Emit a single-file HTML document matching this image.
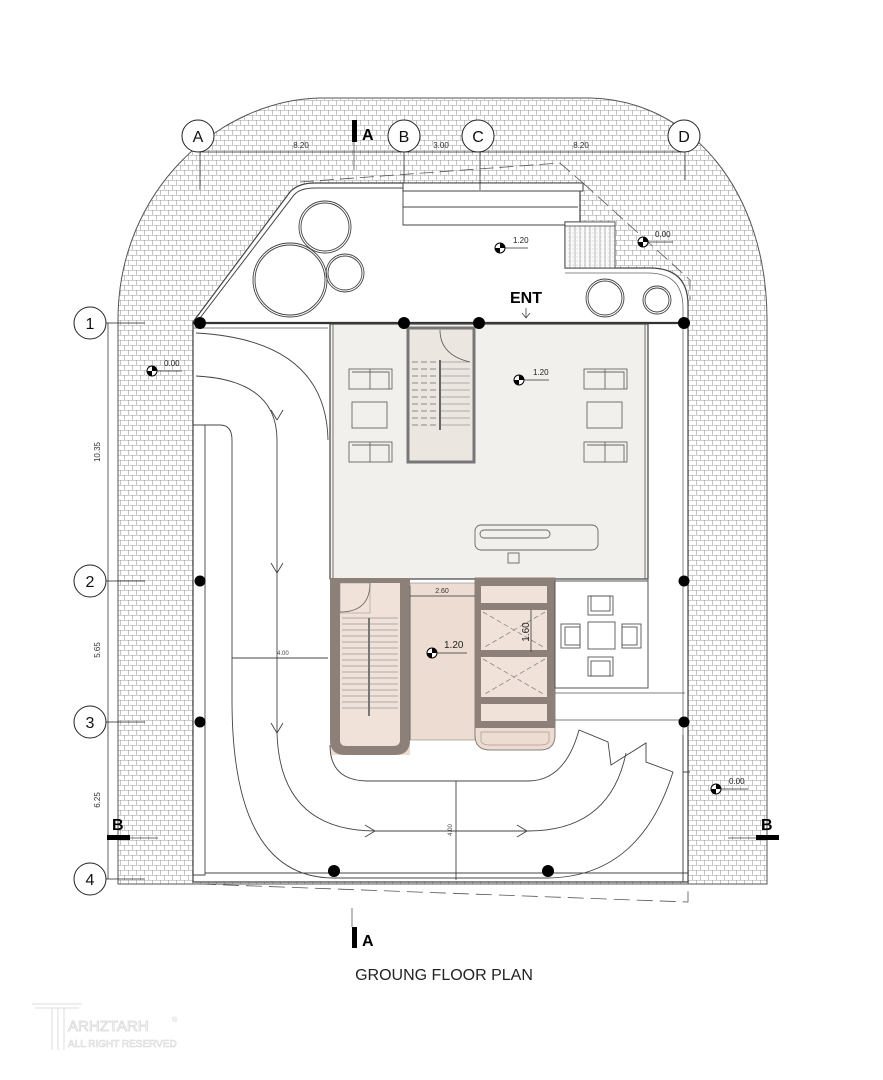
<!DOCTYPE html>
<html><head><meta charset="utf-8"><style>
html,body{margin:0;padding:0;background:#fff;}
svg{display:block;font-family:"Liberation Sans",sans-serif;}
</style></head><body>
<svg width="883" height="1080" viewBox="0 0 883 1080" xmlns="http://www.w3.org/2000/svg">
<defs>
<pattern id="brick" width="8" height="10" patternUnits="userSpaceOnUse">
<rect width="8" height="10" fill="#fff"/>
<path d="M0 0.5H8M0 5.5H8M0.5 0V5M4.5 5V10" stroke="#a0a0a0" stroke-width="0.6" fill="none"/>
</pattern>
<pattern id="dots" width="4" height="4" patternUnits="userSpaceOnUse">
<rect width="4" height="4" fill="#fafafa"/><circle cx="1" cy="1" r="0.4" fill="#999"/>
</pattern>
</defs>

<!-- paving -->
<path d="M118,884 L118,320 C118,190 220,100 320,98 L590,98 C690,100 767,190 767,320 L767,884 Z" fill="url(#brick)" stroke="#555" stroke-width="1"/>
<!-- site white -->
<path d="M193,322 L290,192 Q298,183 315,183 L580,183 L580,222 L565,222 L565,268 L650,268 Q688,268 688,305 L688,882 L193,882 Z" fill="#fff" stroke="#444" stroke-width="1.2"/>
<path d="M200,318 L294,195 Q300,188 315,188 L580,188" fill="none" stroke="#444" stroke-width="1"/>
<path d="M565,273 L648,273 Q683,273 683,308 L683,880" fill="none" stroke="#666" stroke-width="0.8"/>
<path d="M300,182 L560,163 L583,183 M583,183 L690,280 L690,300" fill="none" stroke="#555" stroke-width="0.8" stroke-dasharray="14,6"/>
<!-- top steps -->
<rect x="403" y="183" width="180" height="8" fill="#fff" stroke="#444"/>
<path d="M403,191 V225 H578 M403,207 H578" fill="none" stroke="#444" stroke-width="0.9"/>
<rect x="565" y="222" width="50" height="46" fill="url(#dots)" stroke="#444" stroke-width="0.9"/>
<path d="M570,222V268M575,222V268M580,222V268M585,222V268M590,222V268M595,222V268M600,222V268M605,222V268M610,222V268" stroke="#777" stroke-width="0.5"/>
<rect x="565" y="222" width="50" height="4" fill="#fff" stroke="#444" stroke-width="0.8"/>
<!-- trees -->
<g fill="none" stroke="#444" stroke-width="0.9">
<circle cx="325" cy="227" r="26"/><circle cx="325" cy="227" r="24"/>
<circle cx="290" cy="280" r="37"/><circle cx="290" cy="280" r="35"/>
<circle cx="345" cy="273" r="19"/><circle cx="345" cy="273" r="17"/>
<circle cx="605" cy="298" r="19"/><circle cx="605" cy="298" r="17"/>
<circle cx="657" cy="300" r="14"/><circle cx="657" cy="300" r="12"/>
</g>

<path d="M193,323 H688" stroke="#333" stroke-width="2.2"/>
<path d="M193,328 H328" stroke="#555" stroke-width="0.8"/>

<!-- lobby -->
<rect x="330" y="324" width="318" height="255" fill="#f2f0ec" stroke="#444" stroke-width="1.2"/>
<path d="M333,324V579M645,324V579" stroke="#555" stroke-width="0.8"/>
<rect x="408" y="328" width="66" height="134" fill="#ebe6e0" stroke="#777" stroke-width="3"/>
<g stroke="#888" stroke-width="1" stroke-dasharray="6,3">
<path d="M412,362H440M412,369H440M412,376H440M412,383H440M412,390H440M412,397H440M412,404H440M412,411H440M412,418H440M412,425H440"/>
</g>
<g stroke="#999" stroke-width="0.8"><path d="M440,362H470M440,369H470M440,376H470M440,383H470M440,390H470M440,397H470M440,404H470M440,411H470M440,418H470M440,425H470"/></g>
<path d="M440,360V430" stroke="#666" stroke-width="2"/>
<path d="M440,330 Q440,355 470,362" fill="none" stroke="#555" stroke-width="0.8"/>
<g fill="none" stroke="#666" stroke-width="0.9">
<rect x="349" y="369" width="43" height="20"/><path d="M370,369V389M352,372H389V389"/>
<rect x="352" y="402" width="35" height="26"/>
<rect x="349" y="442" width="43" height="20"/><path d="M370,442V462M352,445H389V462"/>
<rect x="584" y="369" width="43" height="20"/><path d="M605,369V389M587,372H624V389"/>
<rect x="587" y="402" width="35" height="26"/>
<rect x="584" y="442" width="43" height="20"/><path d="M605,442V462M587,445H624V462"/>
<rect x="475" y="525" width="123" height="25" rx="6"/>
<rect x="480" y="530" width="70" height="8" rx="4"/>
<rect x="508" y="553" width="11" height="10"/>
</g>

<!-- lower cores -->
<rect x="330" y="578" width="80" height="177" fill="#ecdcd2"/>
<path d="M330,578 H410 V740 Q410,755 395,755 H345 Q330,755 330,740 Z" fill="#8c8079"/>
<path d="M340,583 H400 V740 Q400,746 393,746 H346 Q340,746 340,740 Z" fill="#f0e2d9"/>
<rect x="340" y="583" width="30" height="30" fill="#f0e2d9" stroke="#888" stroke-width="0.5"/>
<path d="M370,583 Q370,612 340,612" fill="none" stroke="#666" stroke-width="0.8"/>
<g stroke="#999" stroke-width="0.7">
<path d="M342,618H398M342,624H398M342,630H398M342,636H398M342,642H398M342,648H398M342,654H398M342,660H398M342,666H398M342,672H398M342,678H398M342,684H398M342,690H398M342,696H398M342,702H398M342,708H398"/>
</g>
<path d="M369,618V716" stroke="#777" stroke-width="2"/>
<rect x="410" y="583" width="65" height="157" fill="#ecdcd2" stroke="#888" stroke-width="0.6"/>
<path d="M410,586V740" stroke="#777" stroke-width="1.2"/>
<path d="M475,578 H555 V735 Q555,750 540,750 H490 Q475,750 475,735 Z" fill="#ecdcd2" stroke="#8c8079" stroke-width="1"/>
<rect x="475" y="578" width="80" height="150" fill="#8c8079"/>
<rect x="481" y="586" width="66" height="17" fill="#f0e2d9"/>
<rect x="481" y="610" width="66" height="40" fill="#f0e2d9"/>
<rect x="481" y="657" width="66" height="40" fill="#f0e2d9"/>
<rect x="481" y="704" width="66" height="17" fill="#f0e2d9"/>
<g stroke="#888" stroke-width="0.8" stroke-dasharray="5,3"><path d="M483,612L545,648M545,612L483,648M483,659L545,695M545,659L483,695"/></g>
<path d="M481,732 H549 V740 Q549,745 540,745 H490 Q481,745 481,740Z" fill="none" stroke="#aa9990" stroke-width="0.7"/>
<text x="0" y="0" font-size="10" transform="translate(529,632) rotate(-90)" text-anchor="middle" fill="#222">1.60</text>
<path d="M531,610V652" stroke="#333" stroke-width="0.8"/>
<path d="M410,596H475" stroke="#333" stroke-width="0.8"/>
<text x="442" y="593" font-size="7" text-anchor="middle" fill="#333">2.60</text>

<!-- seating area -->
<rect x="555" y="581" width="93" height="107" fill="#fff" stroke="#555" stroke-width="1"/>
<path d="M555,693 H685 M555,720 H685 M648,578 V688" stroke="#555" stroke-width="0.8" fill="none"/>
<g fill="none" stroke="#555" stroke-width="0.9">
<rect x="588" y="596" width="25" height="19"/><rect x="591" y="596" width="19" height="15"/>
<rect x="588" y="622" width="27" height="27"/>
<rect x="561" y="624" width="19" height="24"/><rect x="565" y="627" width="15" height="18"/>
<rect x="622" y="624" width="19" height="24"/><rect x="622" y="627" width="15" height="18"/>
<rect x="588" y="657" width="25" height="19"/><rect x="591" y="661" width="19" height="15"/>
</g>

<!-- ramp -->
<g fill="none" stroke="#444" stroke-width="0.9">
<path d="M196,333 Q326,340 328,440"/>
<path d="M196,376 Q277,380 277,440 V733 Q280,831 376,831 H528 Q610,831 626,753"/>
<path d="M193,425 V875 H205 V425 Z"/>
<path d="M205,425 H220 Q232,425 232,440 V700 Q232,878 334,878 H546 Q640,878 673,772 L646,762 L646,743 L611,765 L608,742 L579,730 Q565,781 528,781 H368 Q330,781 330,745"/>
<path d="M205,873 H688 M205,882 H688"/>
<path d="M456,781 V880"/>
<path d="M232,658 H328"/>
<path d="M277,420 L271,410 M277,420 L283,410 M277,573 L271,563 M277,573 L283,563 M277,733 L271,723 M277,733 L283,723 M375,831 L365,825 M375,831 L365,837 M527,831 L517,825 M527,831 L517,837"/>
<path d="M683,735 V882 M683,772 H690"/>
</g>
<text x="0" y="0" font-size="6" transform="translate(452,830) rotate(-90)" text-anchor="middle" fill="#444">4.00</text>
<text x="277" y="655" font-size="6" fill="#444">4.00</text>
<path d="M200,884 L688,902 V882" fill="none" stroke="#555" stroke-width="0.8" stroke-dasharray="16,7"/>

<!-- columns -->
<g fill="#000">
<circle cx="200" cy="323" r="6"/><circle cx="404" cy="323" r="6"/><circle cx="479" cy="323" r="6"/><circle cx="684" cy="323" r="6"/>
<circle cx="200" cy="581" r="5.5"/><circle cx="684" cy="581" r="5.5"/>
<circle cx="200" cy="722" r="5.5"/><circle cx="684" cy="722" r="5.5"/>
<circle cx="334" cy="871" r="6"/><circle cx="548" cy="871" r="6"/>
</g>

<!-- grid -->
<g fill="#fff" stroke="#222" stroke-width="1">
<circle cx="198" cy="136" r="16"/><circle cx="404" cy="136" r="16"/><circle cx="478" cy="136" r="16"/><circle cx="684" cy="136" r="16"/>
<circle cx="90" cy="323" r="16"/><circle cx="90" cy="581" r="16"/><circle cx="90" cy="722" r="16"/><circle cx="90" cy="879" r="16"/>
</g>
<g fill="none" stroke="#222" stroke-width="0.7">
<path d="M200,152 V190 M404,152 V183 M480,152 V190 M685,152 V180"/>
<path d="M200,152 H685"/>
<path d="M106,323 H145 M106,581 H145 M106,722 H145 M106,879 H145 M108,323 V879"/>
</g>
<g font-size="16" text-anchor="middle" fill="#111">
<text x="198" y="142">A</text><text x="404" y="142">B</text><text x="478" y="142">C</text><text x="684" y="142">D</text>
<text x="90" y="329">1</text><text x="90" y="587">2</text><text x="90" y="728">3</text><text x="90" y="885">4</text>
</g>
<g font-size="8" fill="#333" text-anchor="middle">
<text x="301" y="148">8.20</text><text x="441" y="148">3.00</text><text x="581" y="148">8.20</text>
<text x="0" y="0" transform="translate(100,452) rotate(-90)">10.35</text>
<text x="0" y="0" transform="translate(100,650) rotate(-90)">5.65</text>
<text x="0" y="0" transform="translate(100,800) rotate(-90)">6.25</text>
</g>

<!-- section marks -->
<rect x="352" y="120" width="5" height="22" fill="#000"/><path d="M354,142V170" stroke="#444" stroke-width="0.7"/>
<text x="362" y="140" font-size="16" font-weight="bold">A</text>
<rect x="352" y="927" width="5" height="21" fill="#000"/><path d="M352,908V927" stroke="#444" stroke-width="0.7"/>
<text x="362" y="946" font-size="16" font-weight="bold">A</text>
<rect x="107" y="835" width="23" height="5" fill="#000"/><path d="M130,838H158" stroke="#444" stroke-width="0.7"/>
<text x="112" y="830" font-size="16" font-weight="bold">B</text>
<rect x="756" y="835" width="23" height="5" fill="#000"/><path d="M728,838H756" stroke="#444" stroke-width="0.7"/>
<text x="761" y="830" font-size="16" font-weight="bold">B</text>

<text x="526" y="303" font-size="16" font-weight="bold" text-anchor="middle">ENT</text>
<path d="M526,308V318M522,313L526,318L530,313" fill="none" stroke="#444" stroke-width="0.8"/>

<g font-size="8" fill="#222">
<g transform="translate(500,248)"><circle r="5" fill="#fff" stroke="#000"/><path d="M0,-5A5,5 0 0 1 5,0H0Z M0,5A5,5 0 0 1 -5,0H0Z" fill="#000"/><path d="M5,0H28" stroke="#333" stroke-width="0.7"/><text x="13" y="-5">1.20</text></g>
<g transform="translate(643,242)"><circle r="5" fill="#fff" stroke="#000"/><path d="M0,-5A5,5 0 0 1 5,0H0Z M0,5A5,5 0 0 1 -5,0H0Z" fill="#000"/><path d="M5,0H30" stroke="#333" stroke-width="0.7"/><text x="12" y="-5">0.00</text></g>
<g transform="translate(152,371)"><circle r="5" fill="#fff" stroke="#000"/><path d="M0,-5A5,5 0 0 1 5,0H0Z M0,5A5,5 0 0 1 -5,0H0Z" fill="#000"/><path d="M5,0H30" stroke="#333" stroke-width="0.7"/><text x="12" y="-5">0.00</text></g>
<g transform="translate(519,380)"><circle r="5" fill="#fff" stroke="#000"/><path d="M0,-5A5,5 0 0 1 5,0H0Z M0,5A5,5 0 0 1 -5,0H0Z" fill="#000"/><path d="M5,0H30" stroke="#333" stroke-width="0.7"/><text x="14" y="-5">1.20</text></g>
<g transform="translate(432,653)" font-size="10"><circle r="5" fill="#fff" stroke="#000"/><path d="M0,-5A5,5 0 0 1 5,0H0Z M0,5A5,5 0 0 1 -5,0H0Z" fill="#000"/><path d="M5,0H35" stroke="#333" stroke-width="0.7"/><text x="12" y="-5">1.20</text></g>
<g transform="translate(716,789)"><circle r="5" fill="#fff" stroke="#000"/><path d="M0,-5A5,5 0 0 1 5,0H0Z M0,5A5,5 0 0 1 -5,0H0Z" fill="#000"/><path d="M5,0H32" stroke="#333" stroke-width="0.7"/><text x="13" y="-5">0.00</text></g>
</g>

<text x="444" y="980" font-size="16" text-anchor="middle" fill="#222">GROUNG FLOOR PLAN</text>

<g fill="none" stroke="#ddd" stroke-width="1">
<path d="M32,1004H82M35,1008H79M52,1008V1050M58,1008V1050M64,1008V1050"/>
</g>
<text x="68" y="1031" font-size="15" fill="#fff" stroke="#d8d8d8" stroke-width="0.8">ARHZTARH</text>
<text x="68" y="1047" font-size="10" fill="#fff" stroke="#d8d8d8" stroke-width="0.6">ALL RIGHT RESERVED</text>
<text x="172" y="1022" font-size="7" fill="#ccc">®</text>
</svg>
</body></html>
